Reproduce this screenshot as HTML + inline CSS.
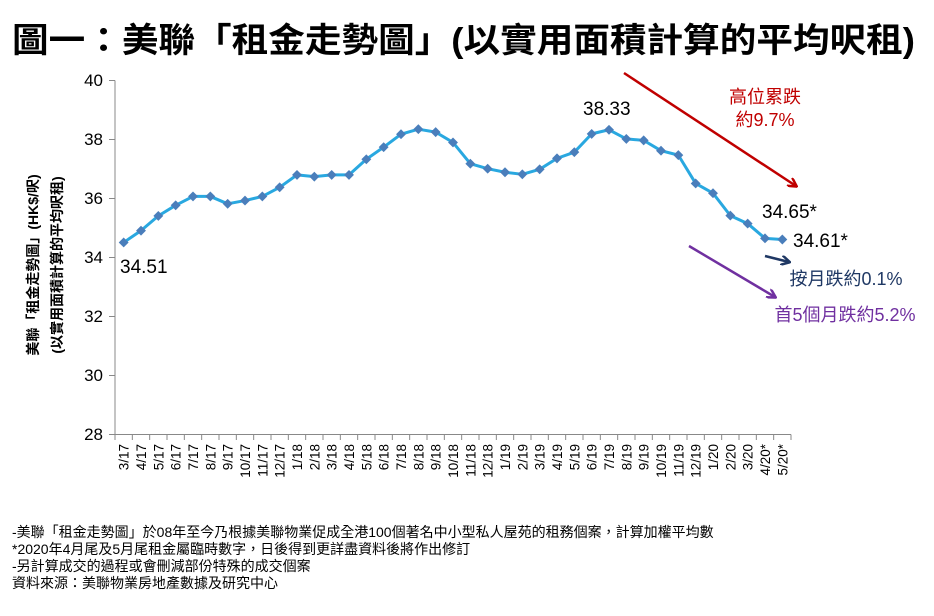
<!DOCTYPE html>
<html><head><meta charset="utf-8"><style>
body{margin:0;background:#fff;}
svg text{font-family:"Liberation Sans","Noto Sans CJK TC",sans-serif;}
</style></head><body>
<svg width="934" height="611" xmlns="http://www.w3.org/2000/svg">
<defs>
<marker id="ar" markerWidth="10" markerHeight="10" refX="8" refY="5" orient="auto" markerUnits="userSpaceOnUse"><path d="M0,0 L9,5 L0,10" fill="none" stroke="#c00000" stroke-width="2.5"/></marker>
<marker id="an" markerWidth="10" markerHeight="10" refX="8" refY="5" orient="auto" markerUnits="userSpaceOnUse"><path d="M0,0 L9,5 L0,10" fill="none" stroke="#1f3864" stroke-width="2.5"/></marker>
<marker id="ap" markerWidth="10" markerHeight="10" refX="8" refY="5" orient="auto" markerUnits="userSpaceOnUse"><path d="M0,0 L9,5 L0,10" fill="none" stroke="#7030a0" stroke-width="2.5"/></marker>
</defs>
<text x="12" y="52" font-size="34" font-weight="bold" fill="#000" textLength="903" lengthAdjust="spacingAndGlyphs">圖一：美聯「租金走勢圖」(以實用面積計算的平均呎租)</text>
<g font-size="17" fill="#000" text-anchor="end">
<text x="103" y="86">40</text><text x="103" y="145">38</text><text x="103" y="204">36</text><text x="103" y="263">34</text><text x="103" y="322">32</text><text x="103" y="381">30</text><text x="103" y="440">28</text>
</g>
<g stroke="#888" stroke-width="1">
<line x1="115" y1="80.5" x2="115" y2="434.5"/>
<line x1="115" y1="434.5" x2="791" y2="434.5"/>
<line x1="109" y1="80.5" x2="115" y2="80.5"/><line x1="109" y1="139.5" x2="115" y2="139.5"/><line x1="109" y1="198.5" x2="115" y2="198.5"/><line x1="109" y1="257.5" x2="115" y2="257.5"/><line x1="109" y1="316.5" x2="115" y2="316.5"/><line x1="109" y1="375.5" x2="115" y2="375.5"/><line x1="109" y1="434.5" x2="115" y2="434.5"/>
</g>
<g id="ticks" stroke="#888"></g>
<g id="xl" font-size="13.5" fill="#000"></g>
<polyline id="ln" fill="none" stroke="#29a8e0" stroke-width="3" stroke-linejoin="round"/>
<g id="pts" fill="#4a7ebb"></g>
<text x="0" y="0" font-size="14" font-weight="bold" fill="#000" text-anchor="middle" transform="translate(38,265) rotate(-90)">美聯「租金走勢圖」(HK$/呎)</text>
<text x="0" y="0" font-size="14" font-weight="bold" fill="#000" text-anchor="middle" transform="translate(62,265) rotate(-90)">(以實用面積計算的平均呎租)</text>
<g font-size="19" fill="#000">
<text x="120" y="273">34.51</text>
<text x="583" y="115">38.33</text>
<text x="762" y="218">34.65*</text>
<text x="793" y="247">34.61*</text>
</g>
<line x1="624" y1="73" x2="796" y2="186" stroke="#c00000" stroke-width="2.5" marker-end="url(#ar)"/>
<g font-size="18" fill="#c00000" text-anchor="middle"><text x="765" y="103">高位累跌</text><text x="765" y="126">約9.7%</text></g>
<line x1="765" y1="256" x2="789" y2="262" stroke="#1f3864" stroke-width="2.5" marker-end="url(#an)"/>
<text x="846" y="285" font-size="18" fill="#1f3864" text-anchor="middle">按月跌約0.1%</text>
<line x1="689" y1="246" x2="775" y2="297" stroke="#7030a0" stroke-width="2.5" marker-end="url(#ap)"/>
<text x="845" y="321" font-size="18" fill="#7030a0" text-anchor="middle">首5個月跌約5.2%</text>
<g font-size="14" fill="#000">
<text x="12" y="537">-美聯「租金走勢圖」於08年至今乃根據美聯物業促成全港100個著名中小型私人屋苑的租務個案，計算加權平均數</text>
<text x="12" y="554">*2020年4月尾及5月尾租金屬臨時數字，日後得到更詳盡資料後將作出修訂</text>
<text x="12" y="571">-另計算成交的過程或會刪減部份特殊的成交個案</text>
<text x="12" y="588">資料來源：美聯物業房地產數據及研究中心</text>
</g>
<script>
var v=[34.51,34.91,35.41,35.77,36.07,36.07,35.82,35.93,36.07,36.38,36.80,36.74,36.80,36.80,37.33,37.74,38.18,38.35,38.25,37.90,37.18,37.01,36.89,36.82,36.99,37.36,37.57,38.19,38.33,38.02,37.97,37.62,37.47,36.51,36.18,35.42,35.15,34.65,34.61];
var lab=["3/17","4/17","5/17","6/17","7/17","8/17","9/17","10/17","11/17","12/17","1/18","2/18","3/18","4/18","5/18","6/18","7/18","8/18","9/18","10/18","11/18","12/18","1/19","2/19","3/19","4/19","5/19","6/19","7/19","8/19","9/19","10/19","11/19","12/19","1/20","2/20","3/20","4/20*","5/20*"];
var ns="http://www.w3.org/2000/svg",w=676/39,p=[];
var pts=document.getElementById("pts"),xl=document.getElementById("xl"),tk=document.getElementById("ticks");
for(var i=0;i<=39;i++){var l=document.createElementNS(ns,"line");var xx=115+w*i;l.setAttribute("x1",xx);l.setAttribute("x2",xx);l.setAttribute("y1",434.5);l.setAttribute("y2",440);tk.appendChild(l);}
v.forEach(function(d,i){var x=115+w*(i+0.5),y=80.5+(40-d)*29.5;p.push(x+","+y);
var r=document.createElementNS(ns,"rect");r.setAttribute("x",x-3.5);r.setAttribute("y",y-3.5);r.setAttribute("width",7);r.setAttribute("height",7);r.setAttribute("transform","rotate(45 "+x+" "+y+")");pts.appendChild(r);
var t=document.createElementNS(ns,"text");t.setAttribute("transform","translate("+(x+5)+",444) rotate(-90)");t.setAttribute("text-anchor","end");t.textContent=lab[i];xl.appendChild(t);});
document.getElementById("ln").setAttribute("points",p.join(" "));
</script>
</svg>
</body></html>
